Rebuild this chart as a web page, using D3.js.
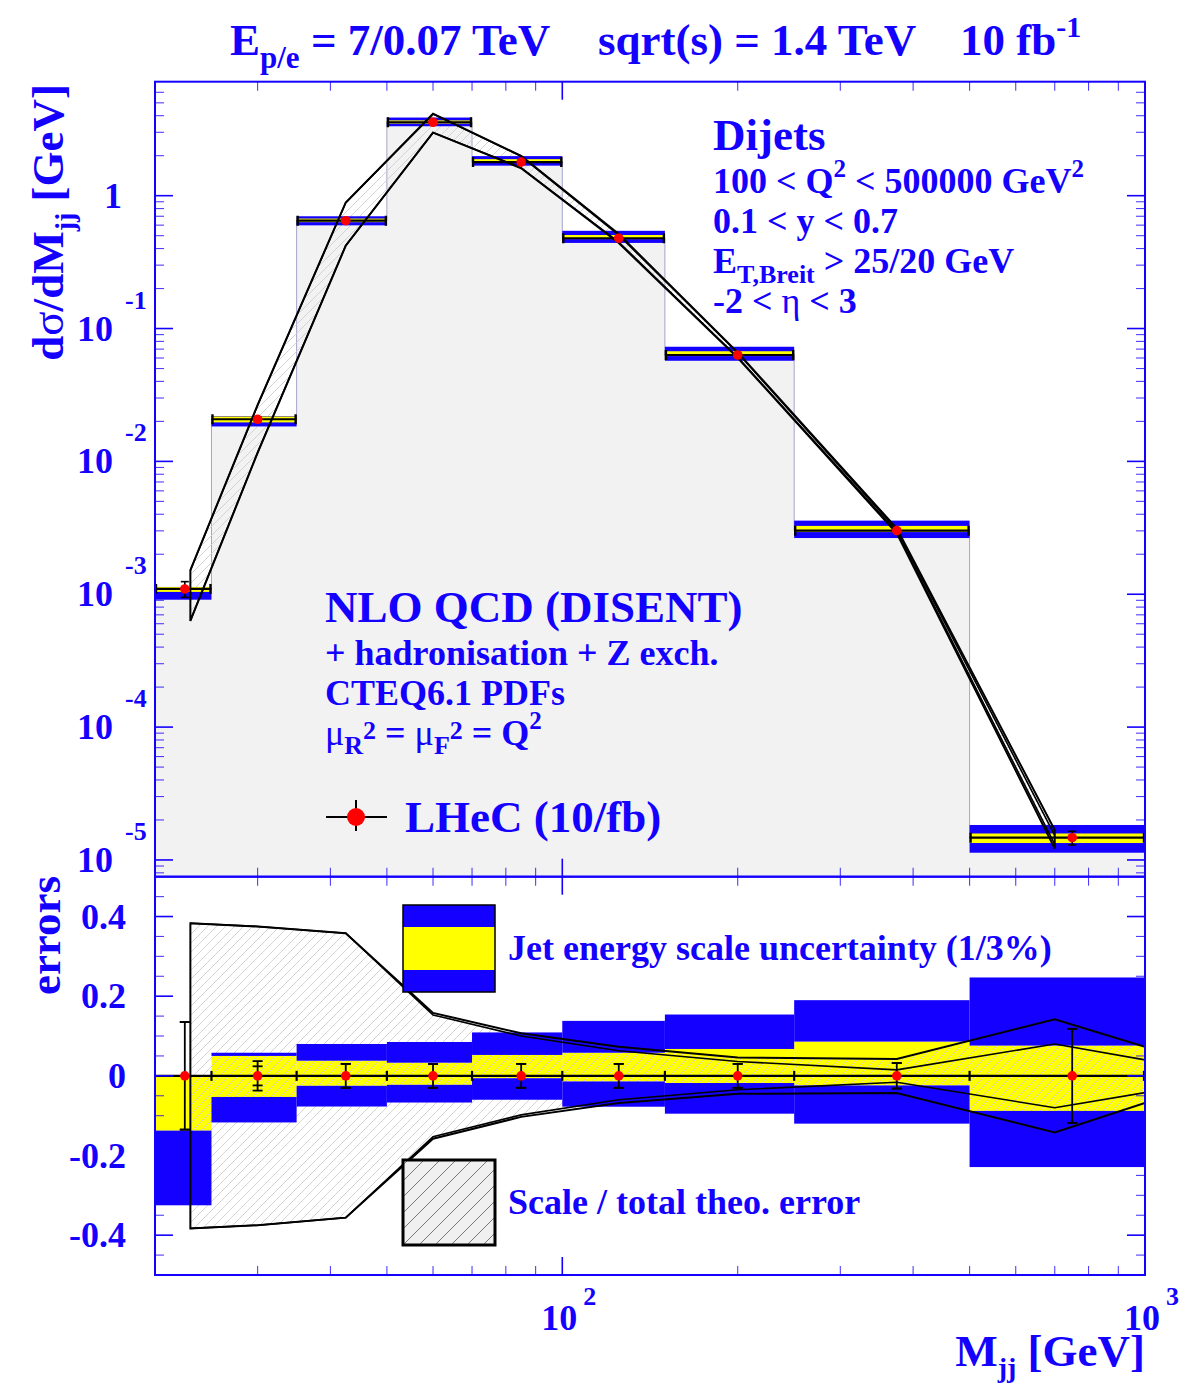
<!DOCTYPE html>
<html><head><meta charset="utf-8">
<script src="https://cdn.jsdelivr.net/npm/d3@7"></script>
<style>
body{margin:0;background:#fff}
svg{display:block}
text{font-family:'Liberation Serif','Times New Roman',serif;font-weight:bold;fill:#1400ff;white-space:pre}
</style>
</head><body>
<svg id="c" width="1182" height="1387"></svg>
<script>
// ---------------- data ----------------
const binEdges   = [20,25,35,50,70,100,150,250,500,1000];
const binCenters = [22.5,30,42.5,60,85,125,200,375,750];
const xsec       = [1.096e-3,0.02075,0.648,3.57,1.79,0.478,0.0632,3.01e-3,1.47e-5];
const statErr    = [0.135,0.024,0.030,0.030,0.030,0.030,0.030,0.032,0.118];
const totErr     = [0.135,0.037,0.030,0.030,0.030,0.030,0.030,0.032,0.118];
// jet-energy-scale bands, relative (lower panel)
const jes1Up     = [0,0.050,0.038,0.033,0.0525,0.058,0.0675,0.086,0.076];
const jes1Dn     = [-0.1375,-0.053,-0.025,-0.0225,-0.006,-0.014,-0.018,-0.024,-0.088];
const jes3Up     = [0,0.058,0.080,0.085,0.109,0.138,0.154,0.190,0.247];
const jes3Dn     = [-0.325,-0.117,-0.077,-0.067,-0.060,-0.0775,-0.095,-0.120,-0.229];
// jet-energy-scale bands, relative (as drawn in the upper panel)
const topJes1Up  = [0.035,0.050,0.038,0.033,0.0525,0.058,0.0675,0.086,0.076];
const topJes1Dn  = [-0.05,-0.053,-0.025,-0.0225,-0.006,-0.014,-0.018,-0.024,-0.088];
const topJes3Up  = [0.035,0.058,0.080,0.085,0.109,0.138,0.154,0.190,0.247];
const topJes3Dn  = [-0.17,-0.117,-0.077,-0.067,-0.060,-0.0775,-0.095,-0.120,-0.229];
const theoX       = [23,30,42.5,60,85,125,200,375,700];
const theoTotUp   = [1.52e-3,2.66e-2,0.889,4.14,1.99,0.514,0.0661,3.13e-3,1.68e-5];
const theoTotDn   = [6.3e-4,1.16e-2,0.42,2.98,1.61,0.44,0.0603,2.87e-3,1.22e-5];
const theoScaleUp = [1.51e-3,2.64e-2,0.885,4.12,1.98,0.505,0.0655,3.05e-3,1.53e-5];
const theoScaleDn = [6.35e-4,1.17e-2,0.422,2.99,1.62,0.447,0.0608,2.95e-3,1.31e-5];
const ratioX       = [23,30,42.5,60,85,125,200,375,700,1000];
const ratioTotUp   = [0.383,0.375,0.358,0.158,0.107,0.073,0.046,0.0425,0.142,0.073];
const ratioTotDn   = [-0.383,-0.375,-0.356,-0.158,-0.103,-0.068,-0.045,-0.043,-0.142,-0.068];
const ratioScaleUp = [0.383,0.375,0.358,0.153,0.100,0.063,0.036,0.015,0.080,0.040];
const ratioScaleDn = [-0.383,-0.375,-0.356,-0.153,-0.098,-0.060,-0.035,-0.016,-0.080,-0.042];
const xLabelVals  = [100,1000];
const xLabelExps  = ["2","3"];
const yTopExps    = [0,-1,-2,-3,-4,-5];
const ratioTickVals   = [-0.4,-0.2,0,0.2,0.4];
const ratioTickLabels = ["-0.4","-0.2","0","0.2","0.4"];

// ---------------- setup ----------------
const BLUE="#1400ff", YEL="#ffff00";
const svg=d3.select("#c");
const L=155,R=1145,T=81.7,M=876.7,B=1275;
const x=d3.scaleLog().domain([20,1000]).range([L,R]);
const yT=d3.scaleLog().domain([7.48e-6,7.21]).range([M,T]);
const yL=d3.scaleLinear().domain([-0.5,0.5]).range([B,M]);

const defs=svg.append("defs");
function hatch(id,s,col,w){
  const p=defs.append("pattern").attr("id",id).attr("patternUnits","userSpaceOnUse").attr("width",s).attr("height",s);
  p.append("path").attr("d",`M0,${s} L${s},0 M${-s/2},${s/2} L${s/2},${-s/2} M${s/2},${s*1.5} L${s*1.5},${s/2}`)
   .attr("stroke",col).attr("stroke-width",w).attr("fill","none");
}
hatch("h1",9,"#cfcfcf",0.9);
hatch("h2",16,"#6a6a6a",0.9);
defs.append("clipPath").attr("id","cpT").append("rect").attr("x",L).attr("y",T).attr("width",R-L).attr("height",M-T);
defs.append("clipPath").attr("id","cpL").append("rect").attr("x",L).attr("y",M).attr("width",R-L).attr("height",B-M);

function rich(parent,xx,yy,parts,opts={}){
  const t=parent.append("text").attr("x",xx).attr("y",yy).attr("font-size",opts.fs||36);
  if(opts.anchor) t.attr("text-anchor",opts.anchor);
  let cur=0;
  parts.forEach(p=>{
    if(typeof p==="string") p={t:p};
    const sh=p.sh||0;
    const ts=t.append("tspan").text(p.t).attr("dy",sh-cur);
    if(p.fs) ts.attr("font-size",p.fs);
    if(p.w) ts.attr("font-weight",p.w);
    cur=sh;
  });
  return t;
}

// ---------------- top panel ----------------
const gT=svg.append("g").attr("clip-path","url(#cpT)");
let hp=`M${x(binEdges[0])},${M}`;
xsec.forEach((v,i)=>{hp+=` L${x(binEdges[i])},${yT(v)} L${x(binEdges[i+1])},${yT(v)}`;});
hp+=` L${x(binEdges[binEdges.length-1])},${M} Z`;
gT.append("path").attr("d",hp).attr("fill","#f2f2f2").attr("stroke","#a4a4cc").attr("stroke-width",1);

const tPts=theoX.map((v,i)=>({x:v,up:theoTotUp[i],dn:theoTotDn[i],su:theoScaleUp[i],sd:theoScaleDn[i]}));
gT.append("path").attr("d",d3.area().x(d=>x(d.x)).y0(d=>yT(d.dn)).y1(d=>yT(d.up))(tPts)).attr("fill","url(#h1)");

xsec.forEach((v,i)=>{
  const x0=x(binEdges[i]),x1=x(binEdges[i+1]);
  gT.append("rect").attr("x",x0).attr("width",x1-x0).attr("y",yT(v*(1+topJes3Up[i]))).attr("height",yT(v*(1+topJes3Dn[i]))-yT(v*(1+topJes3Up[i]))).attr("fill",BLUE);
  gT.append("rect").attr("x",x0).attr("width",x1-x0).attr("y",yT(v*(1+topJes1Up[i]))).attr("height",yT(v*(1+topJes1Dn[i]))-yT(v*(1+topJes1Up[i]))).attr("fill",YEL);
});
const lineT=(acc)=>d3.line().x(d=>x(d.x)).y(d=>yT(acc(d)));
const outline=tPts.map(d=>[x(d.x),yT(d.up)]).concat(tPts.slice().reverse().map(d=>[x(d.x),yT(d.dn)]));
gT.append("path").attr("d","M"+outline.join("L")+"Z").attr("fill","none").attr("stroke","#000").attr("stroke-width",2);
gT.append("path").attr("d",lineT(d=>d.su)(tPts)).attr("fill","none").attr("stroke","#000").attr("stroke-width",1.6);
gT.append("path").attr("d",lineT(d=>d.sd)(tPts)).attr("fill","none").attr("stroke","#000").attr("stroke-width",1.6);
xsec.forEach((v,i)=>{
  const x0=x(binEdges[i]),x1=x(binEdges[i+1]),yy=yT(v),xc=x(binCenters[i]);
  gT.append("line").attr("x1",x0).attr("x2",x1).attr("y1",yy).attr("y2",yy).attr("stroke","#000").attr("stroke-width",2.2);
  [x0+1,x1-1].forEach(xe=>gT.append("line").attr("x1",xe).attr("x2",xe).attr("y1",yy-5).attr("y2",yy+5).attr("stroke","#000").attr("stroke-width",2.4));
  const ya=yT(v*(1+totErr[i])),yb=yT(v*(1-totErr[i]));
  gT.append("line").attr("x1",xc).attr("x2",xc).attr("y1",ya).attr("y2",yb).attr("stroke","#000").attr("stroke-width",1.6);
  [ya,yb].forEach(ye=>gT.append("line").attr("x1",xc-4).attr("x2",xc+4).attr("y1",ye).attr("y2",ye).attr("stroke","#000").attr("stroke-width",1.6));
  gT.append("circle").attr("cx",xc).attr("cy",yy).attr("r",4.8).attr("fill","#ff0000");
});

// ---------------- lower panel ----------------
const gL=svg.append("g").attr("clip-path","url(#cpL)");
xsec.forEach((v,i)=>{
  const x0=x(binEdges[i]),x1=x(binEdges[i+1]);
  gL.append("rect").attr("x",x0).attr("width",x1-x0).attr("y",yL(jes1Up[i])).attr("height",yL(jes1Dn[i])-yL(jes1Up[i])).attr("fill",YEL);
});
const rPts=ratioX.map((v,i)=>({x:v,up:ratioTotUp[i],dn:ratioTotDn[i],su:ratioScaleUp[i],sd:ratioScaleDn[i]}));
gL.append("path").attr("d",d3.area().x(d=>x(d.x)).y0(d=>yL(d.dn)).y1(d=>yL(d.up))(rPts)).attr("fill","url(#h1)");
xsec.forEach((v,i)=>{
  const x0=x(binEdges[i]),x1=x(binEdges[i+1]);
  gL.append("rect").attr("x",x0).attr("width",x1-x0).attr("y",yL(jes3Up[i])).attr("height",yL(jes1Up[i])-yL(jes3Up[i])).attr("fill",BLUE);
  gL.append("rect").attr("x",x0).attr("width",x1-x0).attr("y",yL(jes1Dn[i])).attr("height",yL(jes3Dn[i])-yL(jes1Dn[i])).attr("fill",BLUE);
});
const lineL=(acc)=>d3.line().x(d=>x(d.x)).y(d=>yL(acc(d)));
const outL=rPts.map(d=>[x(d.x),yL(d.up)]).concat(rPts.slice().reverse().map(d=>[x(d.x),yL(d.dn)]));
gL.append("path").attr("d","M"+outL.join("L")+"Z").attr("fill","none").attr("stroke","#000").attr("stroke-width",2);
gL.append("path").attr("d",lineL(d=>d.su)(rPts)).attr("fill","none").attr("stroke","#000").attr("stroke-width",1.6);
gL.append("path").attr("d",lineL(d=>d.sd)(rPts)).attr("fill","none").attr("stroke","#000").attr("stroke-width",1.6);
gL.append("line").attr("x1",L).attr("x2",R).attr("y1",yL(0)).attr("y2",yL(0)).attr("stroke","#000").attr("stroke-width",2.2);
binEdges.slice(1).forEach(e=>{const xe=Math.min(x(e),R-1);gL.append("line").attr("x1",xe).attr("x2",xe).attr("y1",yL(0)-5).attr("y2",yL(0)+5).attr("stroke","#000").attr("stroke-width",2.2);});
xsec.forEach((v,i)=>{
  const xc=x(binCenters[i]);
  const ya=yL(totErr[i]),yb=yL(-totErr[i]);
  gL.append("line").attr("x1",xc).attr("x2",xc).attr("y1",ya).attr("y2",yb).attr("stroke","#000").attr("stroke-width",1.8);
  [ya,yb,yL(statErr[i]),yL(-statErr[i])].forEach(ye=>gL.append("line").attr("x1",xc-5).attr("x2",xc+5).attr("y1",ye).attr("y2",ye).attr("stroke","#000").attr("stroke-width",1.8));
  gL.append("circle").attr("cx",xc).attr("cy",yL(0)).attr("r",4.8).attr("fill","#ff0000");
});
const lb=svg.append("g");
lb.append("rect").attr("x",403).attr("y",905).attr("width",92).attr("height",87).attr("fill",BLUE);
lb.append("rect").attr("x",403).attr("y",927).attr("width",92).attr("height",43).attr("fill",YEL);
lb.append("rect").attr("x",403).attr("y",905).attr("width",92).attr("height",87).attr("fill","none").attr("stroke","#000").attr("stroke-width",1.5);
lb.append("rect").attr("x",403).attr("y",1160).attr("width",92).attr("height",85).attr("fill","#f0f0f0");
lb.append("rect").attr("x",403).attr("y",1160).attr("width",92).attr("height",85).attr("fill","url(#h2)");
lb.append("rect").attr("x",403).attr("y",1160).attr("width",92).attr("height",85).attr("fill","none").attr("stroke","#000").attr("stroke-width",3);

// ---------------- frames & ticks ----------------
const ax=svg.append("g");
function tick(x1,y1,x2,y2,major){ax.append("line").attr("x1",x1).attr("y1",y1).attr("x2",x2).attr("y2",y2).attr("stroke",BLUE).attr("stroke-width",major?1.6:1.1).attr("opacity",major?1:0.75);}
for(let k=1;k<=3;k++)for(let m=1;m<=9;m++){
  const v=m*Math.pow(10,k); if(v<=20||v>=1000) continue;
  const px=x(v),maj=(m===1),len=maj?18:9;
  tick(px,M,px,M-len,maj); tick(px,T,px,T+len,maj);
  tick(px,B,px,B-len,maj); tick(px,M,px,M+len,maj);
}
for(let k=-6;k<=0;k++)for(let m=1;m<=9;m++){
  const v=m*Math.pow(10,k); if(v<=7.5e-6||v>=7.0) continue;
  const py=yT(v),maj=(m===1),len=maj?18:9;
  tick(L,py,L+len,py,maj); tick(R,py,R-len,py,maj);
}
for(let i=-9;i<=9;i++){
  const v=i*0.05,py=yL(v),maj=(i%4===0),len=maj?18:9;
  tick(L,py,L+len,py,maj); tick(R,py,R-len,py,maj);
}
svg.append("rect").attr("x",L).attr("y",T).attr("width",R-L).attr("height",M-T).attr("fill","none").attr("stroke",BLUE).attr("stroke-width",2);
svg.append("rect").attr("x",L).attr("y",M).attr("width",R-L).attr("height",B-M).attr("fill","none").attr("stroke",BLUE).attr("stroke-width",2);

// ---------------- tick labels ----------------
yTopExps.forEach(e=>{
  const py=yT(Math.pow(10,e));
  if(e===0) rich(svg,122,py+12,["1"],{fs:36,anchor:"end"});
  else { rich(svg,113,py+12,["10"],{fs:36,anchor:"end"}); rich(svg,125,py-20,[String(e)],{fs:26}); }
});
ratioTickVals.forEach((v,i)=>rich(svg,126,yL(v)+12,[ratioTickLabels[i]],{fs:36,anchor:"end"}));
xLabelVals.forEach((v,i)=>{
  const px=x(v);
  rich(svg,px-3,1330,["10"],{fs:36,anchor:"middle"});
  rich(svg,px+21,1305,[xLabelExps[i]],{fs:26});
});

// ---------------- titles & texts ----------------
rich(svg,1145,1366,["M",{t:"jj",fs:28,sh:11},{t:" [GeV]",sh:0}],{fs:45,anchor:"end"});
const yt=svg.append("g").attr("transform","translate(63,84) rotate(-90)");
rich(yt,0,0,["d",{t:"σ",w:"normal"},"/dM",{t:"jj",fs:28,sh:11},{t:" [GeV]",sh:0}],{fs:45,anchor:"end"});
const et=svg.append("g").attr("transform","translate(60,876) rotate(-90)");
rich(et,0,0,["errors"],{fs:45,anchor:"end"});

rich(svg,230,55,["E",{t:"p/e",fs:31,sh:13},{t:" = 7/0.07 TeV",sh:0}],{fs:45});
rich(svg,598,55,["sqrt(s) = 1.4 TeV"],{fs:45});
rich(svg,960,55,["10 fb",{t:"-1",fs:30,sh:-18}],{fs:45});

rich(svg,713,150,["Dijets"],{fs:45});
rich(svg,713,193,["100 < Q",{t:"2",fs:25,sh:-16},{t:" < 500000 GeV",sh:0},{t:"2",fs:25,sh:-16}],{fs:36});
rich(svg,713,233,["0.1 < y < 0.7"],{fs:36});
rich(svg,713,273,["E",{t:"T,Breit",fs:26,sh:10},{t:" > 25/20 GeV",sh:0}],{fs:36});
rich(svg,713,313,["-2 < ",{t:"η",w:"normal"}," < 3"],{fs:36});

rich(svg,325,622,["NLO QCD (DISENT)"],{fs:45});
rich(svg,325,665,["+ hadronisation + Z exch."],{fs:36});
rich(svg,325,705,["CTEQ6.1 PDFs"],{fs:36});
rich(svg,325,745,[{t:"μ",w:"normal"},{t:"R",fs:26,sh:9},{t:"2",fs:26,sh:-6},{t:" = ",sh:0},{t:"μ",w:"normal"},{t:"F",fs:26,sh:9},{t:"2",fs:26,sh:-6},{t:" = Q",sh:0},{t:"2",fs:25,sh:-16}],{fs:36});

svg.append("line").attr("x1",326).attr("x2",387).attr("y1",817).attr("y2",817).attr("stroke","#000").attr("stroke-width",2);
svg.append("line").attr("x1",356).attr("x2",356).attr("y1",800).attr("y2",831).attr("stroke","#000").attr("stroke-width",2);
svg.append("circle").attr("cx",356).attr("cy",817).attr("r",9).attr("fill","#ff0000");
rich(svg,405,832,["LHeC (10/fb)"],{fs:45});

rich(svg,508,960,["Jet energy scale uncertainty (1/3%)"],{fs:36});
rich(svg,508,1214,["Scale / total theo. error"],{fs:36});
</script>
</body></html>
